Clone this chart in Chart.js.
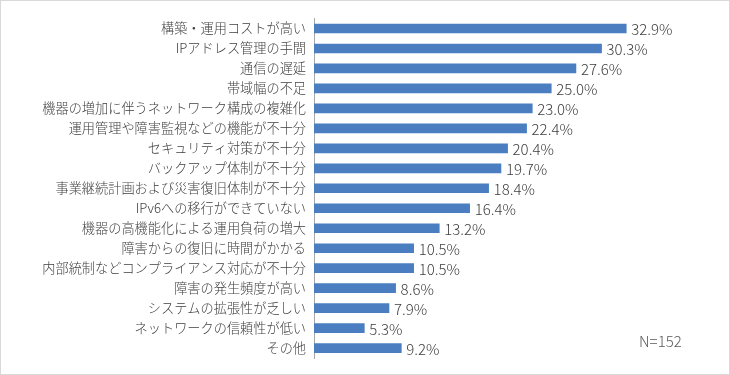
<!DOCTYPE html>
<html>
<head>
<meta charset="utf-8">
<script src="https://cdn.jsdelivr.net/npm/chart.js@4"></script>
<style>
    html, body {margin: 0; padding: 0; background: #fff;}
    #frame {width: 728px; height: 373px; border: 1px solid #d9d9d9; position: relative;}
    #note {position: absolute; left: 638px; top: 329px; font: 300 15px "Noto Sans CJK JP", sans-serif; color: #595959;}
</style>
</head>
<body>
<div id="frame">
    <canvas id="issues_canvas" width="728" height="373"></canvas>
    <div id="note">N=152</div>
</div>
<script>
const issue_labels = [
    "構築・運用コストが高い",
    "IPアドレス管理の手間",
    "通信の遅延",
    "帯域幅の不足",
    "機器の増加に伴うネットワーク構成の複雑化",
    "運用管理や障害監視などの機能が不十分",
    "セキュリティ対策が不十分",
    "バックアップ体制が不十分",
    "事業継続計画および災害復旧体制が不十分",
    "IPv6への移行ができていない",
    "機器の高機能化による運用負荷の増大",
    "障害からの復旧に時間がかかる",
    "内部統制などコンプライアンス対応が不十分",
    "障害の発生頻度が高い",
    "システムの拡張性が乏しい",
    "ネットワークの信頼性が低い",
    "その他"
];

const issue_percent = [32.9, 30.3, 27.6, 25.0, 23.0, 22.4, 20.4, 19.7, 18.4, 16.4, 13.2, 10.5, 10.5, 8.6, 7.9, 5.3, 9.2];

const font_family = '"Noto Sans CJK JP", "Noto Sans", sans-serif';

// draws the "32.9%" style text right after each bar
const value_label_plugin = {
    id: 'value_labels',
    afterDatasetsDraw(chart) {
        const ctx = chart.ctx;
        const meta = chart.getDatasetMeta(0);
        ctx.save();
        ctx.font = '300 15px ' + font_family;
        ctx.fillStyle = '#404040';
        ctx.textAlign = 'left';
        ctx.textBaseline = 'middle';
        meta.data.forEach(function (bar, i) {
            ctx.fillText(issue_percent[i].toFixed(1) + '%', bar.x + 5, bar.y + 1);
        });
        ctx.restore();
    }
};

let config = {
    type: 'bar',
    data: {
        labels: issue_labels,
        datasets: [{
            data: issue_percent,
            backgroundColor: '#4a7ec0',
            barThickness: 9
        }]
    },
    options: {
        indexAxis: 'y',
        responsive: false,
        animation: false,
        layout: {
            padding: {top: 17.5, bottom: 15.5, left: 0, right: 35.4}
        },
        plugins: {
            legend: {display: false},
            tooltip: {enabled: false}
        },
        scales: {
            x: {
                display: false,
                min: 0,
                max: 40
            },
            y: {
                grid: {display: false, drawTicks: false},
                border: {display: true, color: '#a6a6a6', width: 1},
                ticks: {
                    padding: 8,
                    color: '#404040',
                    font: {family: font_family, size: 13.2, weight: 300}
                },
                afterFit: function (scale) {
                    scale.width = 313;
                }
            }
        }
    },
    plugins: [value_label_plugin]
};

new Chart(document.getElementById('issues_canvas'), config);
</script>
</body>
</html>
